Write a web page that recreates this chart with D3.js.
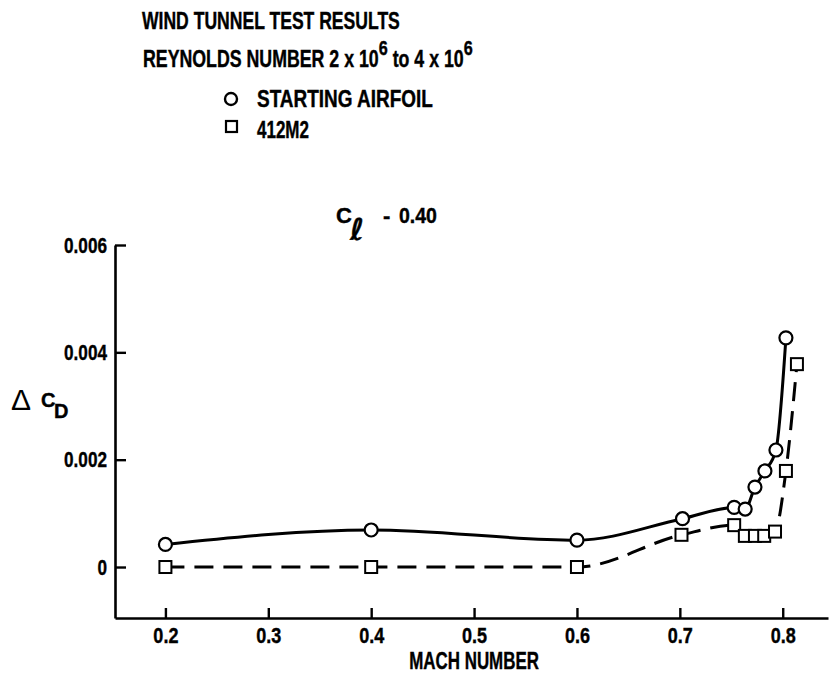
<!DOCTYPE html>
<html>
<head>
<meta charset="utf-8">
<script src="https://cdn.jsdelivr.net/npm/d3@7"></script>
<style>
  html, body { margin: 0; padding: 0; background: #fff; }
  svg { display: block; }
  .t { font-family: "Liberation Sans", Arial, sans-serif; font-weight: bold; fill: #000; stroke: #000; stroke-width: 0.4px; }
</style>
</head>
<body>
<svg id="chart" width="833" height="679"></svg>
<script>
// ---- data ----
const startingMach = [0.2, 0.4, 0.6, 0.7026, 0.7528, 0.7635, 0.773, 0.7827, 0.7934, 0.8031];
const startingDCD  = [0.00042, 0.00069, 0.0005, 0.0009, 0.00111, 0.00108, 0.00149, 0.00179, 0.00218, 0.00427];
const m412Mach = [0.2, 0.4, 0.6, 0.7016, 0.7528, 0.7632, 0.773, 0.782, 0.7925, 0.8031, 0.8138];
const m412DCD  = [0, 0, 0, 0.0006, 0.00078, 0.00058, 0.00058, 0.00058, 0.00066, 0.00179, 0.00378];
const xTicks = [0.2, 0.3, 0.4, 0.5, 0.6, 0.7, 0.8];
const xTickLabels = ["0.2", "0.3", "0.4", "0.5", "0.6", "0.7", "0.8"];
const yTicks = [0, 0.002, 0.004, 0.006];
const yTickLabels = ["0", "0.002", "0.004", "0.006"];
const seriesNames = ["STARTING AIRFOIL", "412M2"];

const svg = d3.select("#chart");
const x = d3.scaleLinear().domain([0.151, 0.844]).range([115, 828]);
const y = d3.scaleLinear().domain([-0.00095, 0.006]).range([618, 245]);

// horizontally condense a text element about an anchor x
function squeeze(sel, factor, ax) {
  sel.attr("transform", `translate(${ax},0) scale(${factor},1) translate(${-ax},0)`);
}
function fitWidth(sel, target, ax) {
  const w = sel.node().getBBox().width;
  squeeze(sel, target / w, ax);
}

// axes
const xAxis = d3.axisBottom(x).tickValues(xTicks).tickSizeInner(-10).tickSizeOuter(0).tickPadding(9)
  .tickFormat((d, i) => xTickLabels[i]);
const yAxis = d3.axisLeft(y).tickValues(yTicks).tickSizeInner(-11).tickSizeOuter(0).tickPadding(8)
  .tickFormat((d, i) => yTickLabels[i]);

const gx = svg.append("g").attr("transform", `translate(0,${y.range()[0]})`).call(xAxis);
const gy = svg.append("g").attr("transform", `translate(${x.range()[0]},0)`).call(yAxis);
[gx, gy].forEach(g => {
  g.select(".domain").attr("stroke", "#000").attr("stroke-width", 2.6);
  g.selectAll(".tick line").attr("stroke", "#000").attr("stroke-width", 2.4);
  g.selectAll(".tick text").attr("class", "t").attr("font-size", 22).attr("fill", "#000");
});
gx.selectAll(".tick text").each(function () { squeeze(d3.select(this), 0.82, 0); });
gy.selectAll(".tick text").each(function () { squeeze(d3.select(this), 0.78, -8); });

// lines
const line = d3.line().curve(d3.curveMonotoneX).x(d => x(d[0])).y(d => y(d[1]));
const sData = startingMach.map((m, i) => [m, startingDCD[i]]);
const mData = m412Mach.map((m, i) => [m, m412DCD[i]]);

svg.append("path").datum(sData).attr("d", line)
  .attr("fill", "none").attr("stroke", "#000").attr("stroke-width", 3);
svg.append("path").datum(mData).attr("d", line)
  .attr("fill", "none").attr("stroke", "#000").attr("stroke-width", 3)
  .attr("stroke-dasharray", "19,10");

// markers
svg.append("g").selectAll("rect").data(mData).join("rect")
  .attr("x", d => x(d[0]) - 6).attr("y", d => y(d[1]) - 6)
  .attr("width", 12).attr("height", 12)
  .attr("fill", "#fff").attr("stroke", "#000").attr("stroke-width", 2);
svg.append("g").selectAll("circle").data(sData).join("circle")
  .attr("cx", d => x(d[0])).attr("cy", d => y(d[1])).attr("r", 6.5)
  .attr("fill", "#fff").attr("stroke", "#000").attr("stroke-width", 2.2);

// header
const title = svg.append("text").attr("class", "t").attr("font-size", 23).attr("x", 142).attr("y", 29)
  .text("WIND TUNNEL TEST RESULTS");
fitWidth(title, 258, 142);
const rey = svg.append("text").attr("class", "t").attr("font-size", 23).attr("x", 143).attr("y", 67);
rey.append("tspan").text("REYNOLDS NUMBER 2 x 10");
rey.append("tspan").attr("dy", -12).attr("font-size", 21).text("6");
rey.append("tspan").attr("dy", 12).text(" to 4 x 10");
rey.append("tspan").attr("dy", -12).attr("font-size", 21).text("6");
fitWidth(rey, 330, 143);

// legend
svg.append("circle").attr("cx", 231).attr("cy", 99).attr("r", 6)
  .attr("fill", "#fff").attr("stroke", "#000").attr("stroke-width", 2.4);
const lg1 = svg.append("text").attr("class", "t").attr("font-size", 23).attr("x", 257).attr("y", 107).text(seriesNames[0]);
fitWidth(lg1, 176, 257);
svg.append("rect").attr("x", 226).attr("y", 121).attr("width", 11).attr("height", 11)
  .attr("fill", "#fff").attr("stroke", "#000").attr("stroke-width", 2.2);
const lg2 = svg.append("text").attr("class", "t").attr("font-size", 23).attr("x", 257).attr("y", 138).text(seriesNames[1]);
fitWidth(lg2, 52, 257);

// C_l label
const cl = svg.append("text").attr("class", "t").attr("font-size", 22).attr("y", 223);
cl.append("tspan").attr("x", 336).text("C");
cl.append("tspan").attr("x", 350).attr("y", 240).attr("font-size", 30)
  .attr("font-style", "italic").style("font-family", "'DejaVu Sans', sans-serif").text("\u2113");
cl.append("tspan").attr("x", 383).attr("y", 223).text("-");
const clv = svg.append("text").attr("class", "t").attr("font-size", 22).attr("x", 399).attr("y", 223).text("0.40");
fitWidth(clv, 38, 399);

// axis titles
const xt = svg.append("text").attr("class", "t").attr("font-size", 23).attr("x", x(0.5)).attr("y", 669)
  .attr("text-anchor", "middle").text("MACH NUMBER");
fitWidth(xt, 130, x(0.5));
const yl = svg.append("text").attr("y", 410);
yl.append("tspan").attr("x", 11).attr("font-size", 30)
  .style("font-family", "'Liberation Sans', sans-serif").text("\u0394");
yl.append("tspan").attr("class", "t").attr("x", 41).attr("y", 407).attr("font-size", 20).text("C");
yl.append("tspan").attr("class", "t").attr("x", 54).attr("y", 418).attr("font-size", 20).text("D");
</script>
</body>
</html>
